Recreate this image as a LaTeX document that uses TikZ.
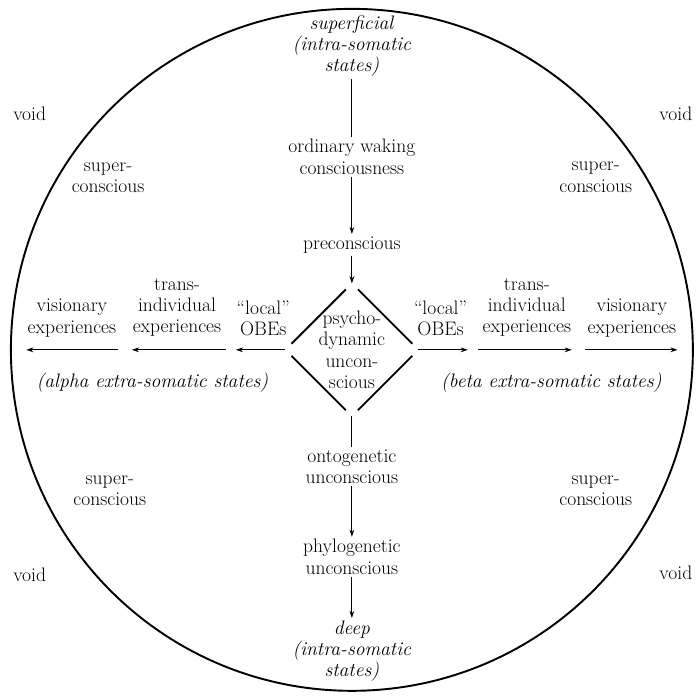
\documentclass[tikz,border=0pt]{standalone}
\usepackage{tikz}
\usetikzlibrary{arrows.meta}

\begin{document}
\begin{tikzpicture}[
    txt/.style={align=center,font=\fontsize{16.3}{17.6}\selectfont,inner sep=2pt},
    arr/.style={-{Stealth[length=6pt,width=4pt]},line width=0.7pt},
    edge/.style={line width=1.5pt,shorten <=0.25cm,shorten >=0.25cm},
]
    \useasboundingbox (-10.32,-10.15) rectangle (10.18,10.26);
    \draw[line width=1.6pt] (0,0) circle (10);

    % vertical axis
    \node[txt] (sup) at (0,8.91) {\textit{superficial}\\\textit{(intra-somatic}\\\textit{states)}};
    \node[txt] (owc) at (0,5.66) {ordinary waking\\consciousness};
    \node[txt] (prec) at (0,3.08) {preconscious};
    \node[txt] (psy) at (0,0) {psycho-\\dynamic\\uncon-\\scious};
    \node[txt] (onto) at (0,-3.43) {ontogenetic\\unconscious};
    \node[txt] (phylo) at (0,-6.07) {phylogenetic\\unconscious};
    \node[txt] (deep) at (0,-8.83) {\textit{deep}\\\textit{(intra-somatic}\\\textit{states)}};

    % diamond
    \coordinate (dt) at (0,1.95);
    \coordinate (dr) at (1.95,0);
    \coordinate (db) at (0,-1.95);
    \coordinate (dl) at (-1.95,0);
    \draw[edge] (dt) -- (dr);
    \draw[edge] (dr) -- (db);
    \draw[edge] (db) -- (dl);
    \draw[edge] (dl) -- (dt);

    % horizontal axis
    \node[txt] (obeL) at (-2.6,0.93) {``local''\\OBEs};
    \node[txt] (transL) at (-5.13,1.25) {trans-\\individual\\experiences};
    \node[txt] (visL) at (-8.21,0.93) {visionary\\experiences};
    \node[txt] (obeR) at (2.6,0.93) {``local''\\OBEs};
    \node[txt] (transR) at (5.13,1.25) {trans-\\individual\\experiences};
    \node[txt] (visR) at (8.21,0.93) {visionary\\experiences};
    \node[txt] (alpha) at (-5.85,-0.97) {\textit{(alpha extra-somatic states)}};
    \node[txt] (beta) at (5.85,-0.97) {\textit{(beta extra-somatic states)}};

    \coordinate (l1) at (-3.4,0);
    \coordinate (l2) at (-3.7,0);
    \coordinate (l3) at (-6.45,0);
    \coordinate (l4) at (-6.85,0);
    \coordinate (l5) at (-9.55,0);
    \coordinate (r1) at (3.4,0);
    \coordinate (r2) at (3.7,0);
    \coordinate (r3) at (6.45,0);
    \coordinate (r4) at (6.85,0);
    \coordinate (r5) at (9.55,0);

    % outer regions
    \node[txt] (supUL) at (-7.15,5.04) {super-\\conscious};
    \node[txt] (supUR) at (7.15,5.06) {super-\\conscious};
    \node[txt] (supLL) at (-7.1,-4.13) {super-\\conscious};
    \node[txt] (supLR) at (7.15,-4.13) {super-\\conscious};
    \node[txt] (voidUL) at (-9.45,6.92) {void};
    \node[txt] (voidUR) at (9.5,6.92) {void};
    \node[txt] (voidLL) at (-9.45,-6.6) {void};
    \node[txt] (voidLR) at (9.5,-6.55) {void};

    \draw[line width=0.7pt] (sup) -- (owc);
    \draw[arr] (owc) -- (prec);
    \draw[arr] (prec) -- (dt);
    \draw[line width=0.7pt] (db) -- (onto);
    \draw[arr] (onto) -- (phylo);
    \draw[arr] (phylo) -- (deep);
    \draw[arr] (dl) -- (l1);
    \draw[arr] (l2) -- (l3);
    \draw[arr] (l4) -- (l5);
    \draw[arr] (dr) -- (r1);
    \draw[arr] (r2) -- (r3);
    \draw[arr] (r4) -- (r5);
\end{tikzpicture}
\end{document}
